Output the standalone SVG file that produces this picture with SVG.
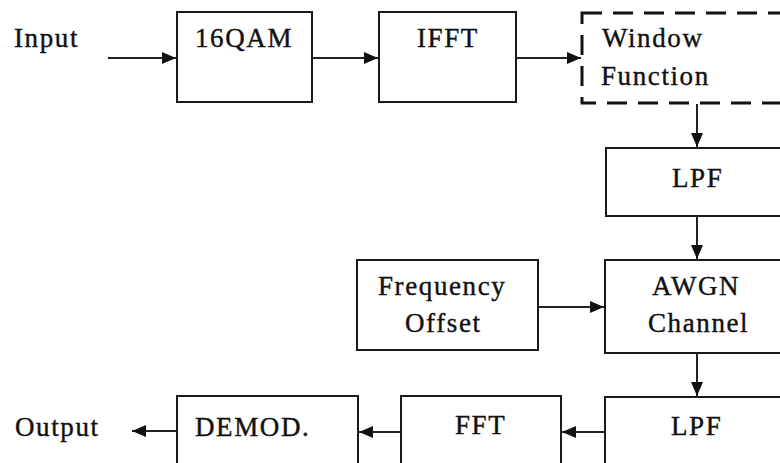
<svg xmlns="http://www.w3.org/2000/svg" width="780" height="463" viewBox="0 0 780 463">
<defs>
<marker id="ah" viewBox="0 0 14 12" refX="14" refY="6" markerWidth="14" markerHeight="12" markerUnits="userSpaceOnUse" orient="auto">
<path d="M0,0 L14,6 L0,12 Z" fill="#111"/>
</marker>
</defs>
<style>
.box{fill:#fff;stroke:#1a1a1a;stroke-width:2}
.dash{fill:#fff;stroke:#111;stroke-width:3;stroke-dasharray:20 11}
.t{font-family:'Liberation Serif','Tinos','Times New Roman','DejaVu Serif',serif;font-size:27px;letter-spacing:1.6px;fill:#111;stroke:#111;stroke-width:0.4}
.c{fill:none;stroke:#222;stroke-width:2;marker-end:url(#ah)}
</style>
<rect width="780" height="463" fill="#fff"/>
<text class="t" x="14" y="47">Input</text>
<text class="t" x="15" y="436">Output</text>
<g id="qam"><rect class="box" x="177" y="12" width="135" height="90"/><text class="t" x="195" y="47">16QAM</text></g>
<g id="ifft"><rect class="box" x="379" y="12" width="137" height="90"/><text class="t" x="417" y="47">IFFT</text></g>
<g id="window"><rect class="dash" x="582" y="13" width="210" height="90"/><text class="t" x="602" y="47">Window</text><text class="t" x="601" y="85">Function</text></g>
<g id="lpf1"><rect class="box" x="606" y="148" width="190" height="68"/><text class="t" x="672" y="187">LPF</text></g>
<g id="freq"><rect class="box" x="357" y="260" width="181" height="90"/><text class="t" x="378" y="295">Frequency</text><text class="t" x="405" y="332">Offset</text></g>
<g id="awgn"><rect class="box" x="605" y="260" width="190" height="93"/><text class="t" x="652" y="295">AWGN</text><text class="t" x="648" y="332">Channel</text></g>
<g id="lpf2"><rect class="box" x="605" y="397" width="190" height="80"/><text class="t" x="671" y="435">LPF</text></g>
<g id="fft"><rect class="box" x="401" y="396" width="160" height="80"/><text class="t" x="455" y="434">FFT</text></g>
<g id="demod"><rect class="box" x="177" y="396" width="181" height="80"/><text class="t" x="195" y="436">DEMOD.</text></g>
<g id="connectors">
<line class="c" x1="108" y1="58" x2="176" y2="58"/>
<line class="c" x1="312" y1="58" x2="378" y2="58"/>
<line class="c" x1="516" y1="58" x2="581" y2="58"/>
<line class="c" x1="697" y1="104" x2="697" y2="147"/>
<line class="c" x1="697" y1="216" x2="697" y2="259"/>
<line class="c" x1="538" y1="307" x2="604" y2="307"/>
<line class="c" x1="697" y1="353" x2="697" y2="396"/>
<line class="c" x1="605" y1="432" x2="562" y2="432"/>
<line class="c" x1="401" y1="432" x2="359" y2="432"/>
<line class="c" x1="177" y1="431" x2="132" y2="431"/>
</g>
</svg>
